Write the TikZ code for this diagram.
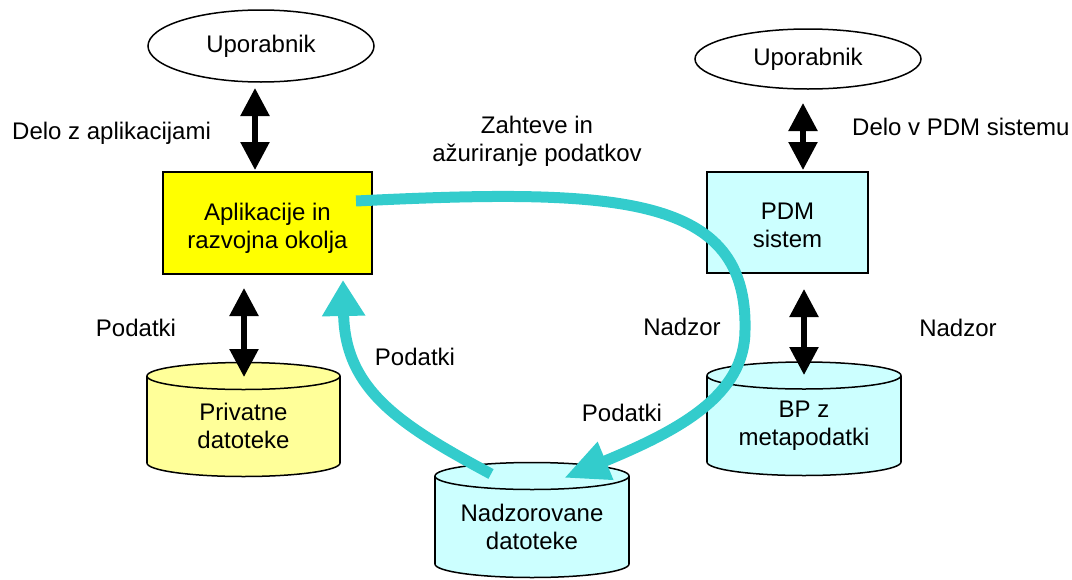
\documentclass[tikz,border=0pt]{standalone}
\usepackage{fontspec}
\setmainfont{Liberation Sans}
\usetikzlibrary{arrows.meta,shapes.geometric}

\definecolor{flowcyan}{HTML}{33CCCC}
\definecolor{paleaqua}{HTML}{CCFFFF}
\definecolor{appyellow}{HTML}{FFFF00}
\definecolor{fileyellow}{HTML}{FFFF99}

% storage drum: #1 name, #2 left x, #3 right x, #4 top-ellipse y, #5 bottom-ellipse y, #6 fill, #7 text
\newcommand\drum[7]{%
  \pgfmathsetmacro\dcx{(#2+#3)/2}%
  \pgfmathsetmacro\drx{(#3-#2)/2}%
  \pgfmathsetmacro\dty{(#4+#5)/2+6.5}%
  \filldraw[fill=#6, line width=1.5pt] (\dcx,#5) ellipse [x radius=\drx pt, y radius=13.5pt];
  \fill[#6] (#2,#4) rectangle (#3,#5);
  \draw[line width=1.5pt] (#2,#4) -- (#2,#5) (#3,#4) -- (#3,#5);
  \filldraw[fill=#6, line width=1.5pt] (\dcx,#4) ellipse [x radius=\drx pt, y radius=13.5pt];
  \node[align=center, inner sep=0pt] (#1) at (\dcx,\dty) {#7};
}

\begin{document}
\begin{tikzpicture}[x=1pt, y=-1pt,
  font=\fontsize{24}{28}\selectfont,
  user/.style={draw, ellipse, line width=1.5pt, fill=white, inner sep=0pt},
  box/.style={draw, line width=1.8pt, inner sep=0pt},
  lbl/.style={inner sep=0pt, align=center},
  twoway/.style={line width=5.5pt,
    {Triangle[width=28pt,length=28pt]}-{Triangle[width=28pt,length=28pt]}},
  flowA/.style={draw=flowcyan, line width=11pt,
    -{Triangle[width=38pt,length=45pt]}, color=flowcyan},
  flowB/.style={draw=flowcyan, line width=11pt,
    -{Triangle[width=41pt,length=36pt]}, color=flowcyan}
]
\useasboundingbox (0,0) rectangle (1072,579);

% users
\node[user, minimum width=226pt, minimum height=72pt] (userA) at (261,46) {Uporabnik};
\node[user, minimum width=226pt, minimum height=60pt] (userB) at (808,59) {Uporabnik};

% application and PDM boxes with their captions
\node[box, fill=appyellow, minimum width=209pt, minimum height=102pt] (app) at (267.5,223) {};
\node[lbl] (appText) at (267.5,228) {Aplikacije in\\razvojna okolja};
\node[box, fill=paleaqua, minimum width=161pt, minimum height=101pt] (pdm) at (787.5,222.5) {};
\node[lbl] (pdmText) at (787.5,225.5) {PDM\\sistem};

% storages
\drum{priv}{147}{340}{376}{463}{fileyellow}{Privatne\\datoteke}
\drum{meta}{707}{901}{375.5}{462}{paleaqua}{BP z\\metapodatki}
\drum{ctrl}{435}{629}{476}{564}{paleaqua}{Nadzorovane\\datoteke}

% two-way links
\coordinate (uaEnd) at (255,88);   \coordinate (appTop) at (255,170);
\coordinate (ubEnd) at (803,103);  \coordinate (pdmTop) at (803,170);
\coordinate (appBot) at (244,288); \coordinate (privTop) at (244,377);
\coordinate (pdmBot) at (804,289); \coordinate (metaTop) at (804,375);
\draw[twoway] (uaEnd) -- (appTop);
\draw[twoway] (ubEnd) -- (pdmTop);
\draw[twoway] (appBot) -- (privTop);
\draw[twoway] (pdmBot) -- (metaTop);

% labels
\node[lbl, anchor=west] (lWork) at (12,133) {Delo z aplikacijami};
\node[lbl, anchor=west] (lPdm) at (852,127) {Delo v PDM sistemu};
\node[lbl] (lReq) at (537,141) {Zahteve in\\ažuriranje podatkov};
\node[lbl] (lDataA) at (136,328) {Podatki};
\node[lbl] (lDataB) at (415,357) {Podatki};
\node[lbl] (lDataC) at (622,413) {Podatki};
\node[lbl] (lCtlA) at (682,327) {Nadzor};
\node[lbl] (lCtlB) at (958,328) {Nadzor};

% controlled data flows
\coordinate (reqStart) at (356,201);
\coordinate (ctrlIn) at (564,478);
\coordinate (ctrlOut) at (491,474);
\coordinate (appIn) at (343,280);
\draw[flowA] (reqStart) .. controls (620,188) and (748,195) .. (745,330)
  .. controls (745,395) and (680,430) .. (ctrlIn);
\draw[flowB] (ctrlOut) .. controls (400,425) and (345,390) .. (appIn);
\end{tikzpicture}
\end{document}
